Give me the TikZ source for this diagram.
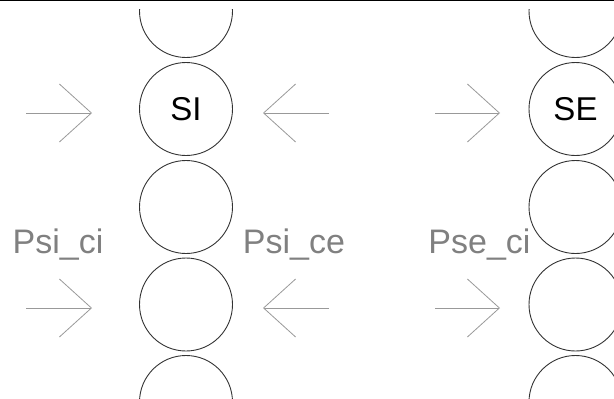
\documentclass[tikz,border=0pt]{standalone}
\usepackage{fontspec}
\setmainfont{Liberation Sans}
\usetikzlibrary{arrows.meta}
\definecolor{ringgray}{HTML}{333333}
\definecolor{arrowgray}{HTML}{999999}
\definecolor{labelgray}{HTML}{808080}

\begin{document}
\begin{tikzpicture}[x=1pt,y=-1pt]
  \useasboundingbox (0,0) rectangle (614,399);
  \draw[black,line width=1.4pt] (0,0.7) -- (614,0.7);
  \begin{scope}
    \clip (0,9) rectangle (614,399);
    \begin{scope}[every node/.style={circle,draw=ringgray,line width=0.9pt,minimum size=93pt,inner sep=0pt,font=\fontsize{33}{36}\selectfont}]
      % inner column
      \node (i1) at (186,11)    {};
      \node (si) at (186,109)   {SI};
      \node (i3) at (186,207)   {};
      \node (i4) at (186,304.5) {};
      \node (i5) at (186,402)   {};
      % outer column
      \node (e1) at (575.5,11)    {};
      \node (se) at (575.5,109)   {SE};
      \node (e3) at (575.5,207)   {};
      \node (e4) at (575.5,304.5) {};
      \node (e5) at (575.5,402)   {};
    \end{scope}
  \end{scope}
  \begin{scope}[every node/.style={text=labelgray,inner sep=0pt,anchor=base,font=\fontsize{34}{36}\selectfont}]
    \node (psici) at (58,253)    {Psi\_ci};
    \node (psice) at (294,253)   {Psi\_ce};
    \node (pseci) at (479.5,253) {Pse\_ci};
  \end{scope}
  \coordinate (a1s) at (26,113);  \coordinate (a1e) at (92,113);
  \coordinate (a2s) at (329,113); \coordinate (a2e) at (263,113);
  \coordinate (a3s) at (435,113); \coordinate (a3e) at (500,113);
  \coordinate (b1s) at (26,308);  \coordinate (b1e) at (92,308);
  \coordinate (b2s) at (329,308); \coordinate (b2e) at (263,308);
  \coordinate (b3s) at (435,308); \coordinate (b3e) at (500,308);
  \begin{scope}[>={Straight Barb[length=32pt,width=58pt]},every edge/.style={draw=arrowgray,line width=0.8pt}]
    \path[->] (a1s) edge (a1e);
    \path[->] (a2s) edge (a2e);
    \path[->] (a3s) edge (a3e);
    \path[->] (b1s) edge (b1e);
    \path[->] (b2s) edge (b2e);
    \path[->] (b3s) edge (b3e);
  \end{scope}
\end{tikzpicture}
\end{document}
